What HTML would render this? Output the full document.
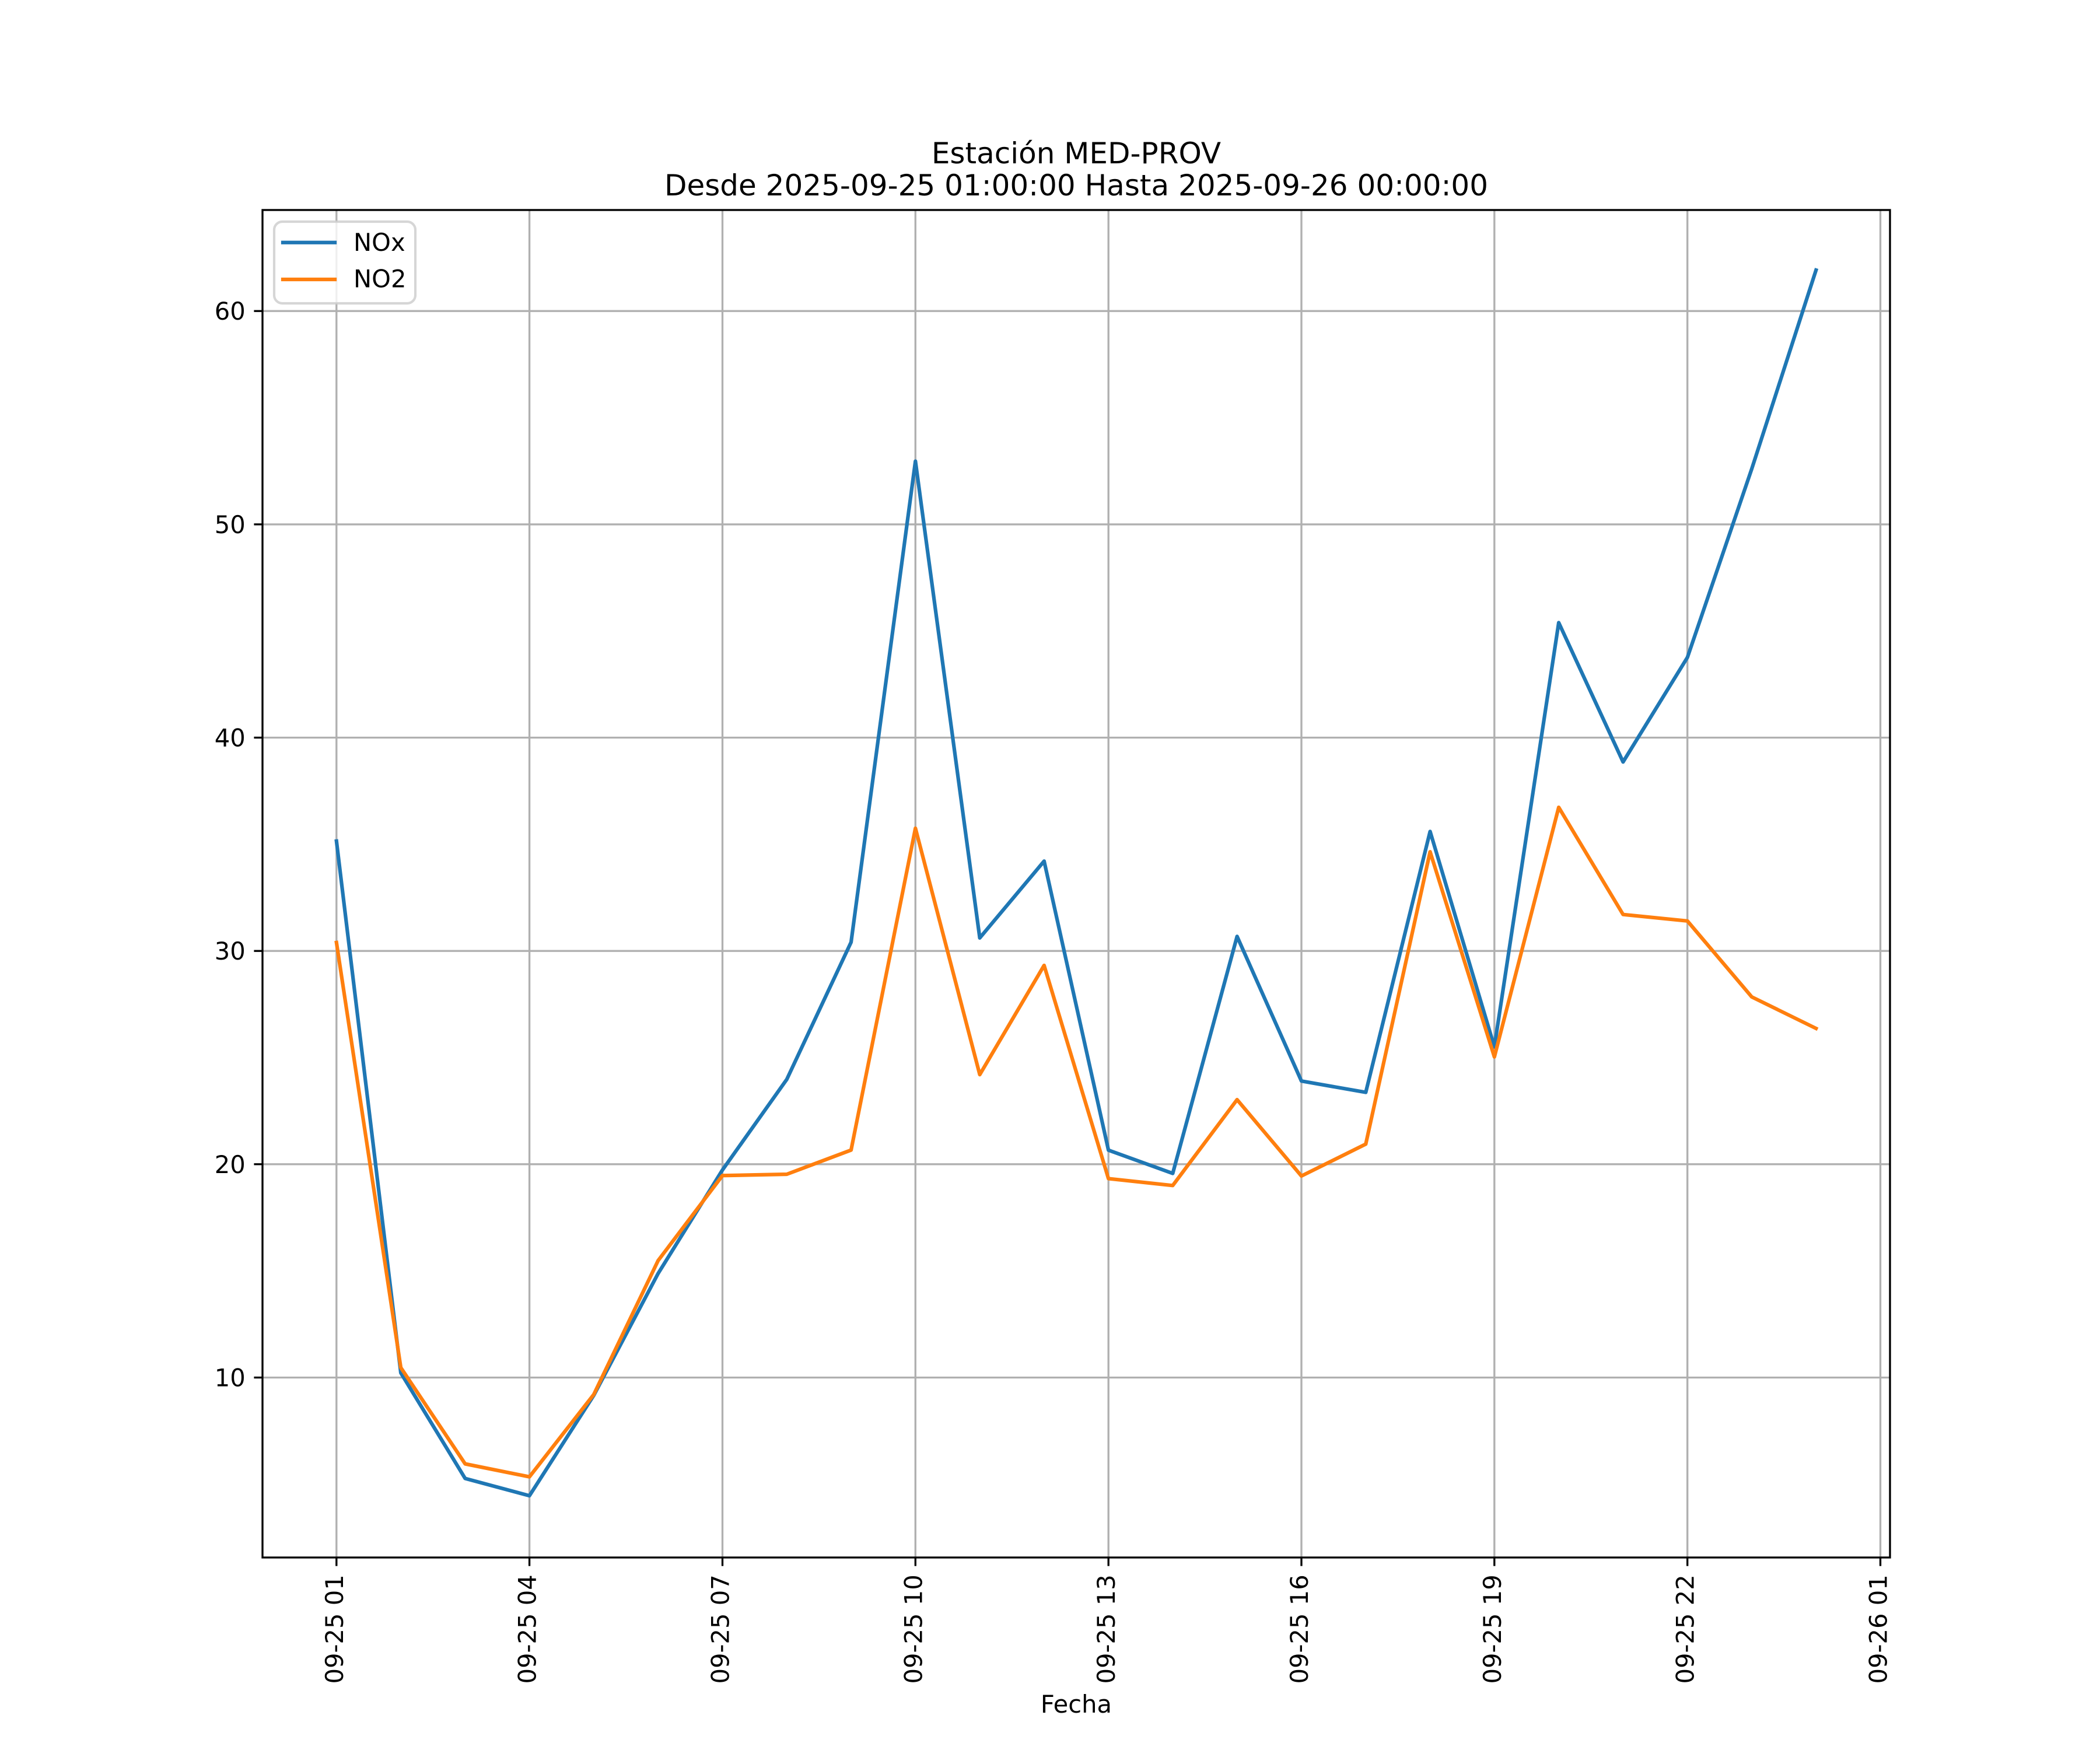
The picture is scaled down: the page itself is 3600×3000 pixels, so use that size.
<!DOCTYPE html>
<html>
<head>
<meta charset="utf-8">
<style>
  html, body { margin: 0; padding: 0; background: #ffffff; }
  svg { display: block; }
  text { font-family: "DejaVu Sans", "Liberation Sans", sans-serif; fill: #000; }
</style>
</head>
<body>
<svg width="3600" height="3000" viewBox="0 0 3600 3000" xmlns="http://www.w3.org/2000/svg">
  <rect x="0" y="0" width="3600" height="3000" fill="#ffffff"/>

  <!-- Title -->
  <text x="1845" y="280" font-size="50" text-anchor="middle">Estación MED-PROV</text>
  <text x="1845" y="335" font-size="50" text-anchor="middle">Desde 2025-09-25 01:00:00 Hasta 2025-09-26 00:00:00</text>

  <!-- Grid -->
  <g stroke="#b0b0b0" stroke-width="3.33" fill="none">
    <line x1="576.8" y1="360" x2="576.8" y2="2670"/>
    <line x1="907.6" y1="360" x2="907.6" y2="2670"/>
    <line x1="1238.5" y1="360" x2="1238.5" y2="2670"/>
    <line x1="1569.3" y1="360" x2="1569.3" y2="2670"/>
    <line x1="1900.2" y1="360" x2="1900.2" y2="2670"/>
    <line x1="2231.0" y1="360" x2="2231.0" y2="2670"/>
    <line x1="2561.8" y1="360" x2="2561.8" y2="2670"/>
    <line x1="2892.7" y1="360" x2="2892.7" y2="2670"/>
    <line x1="3223.5" y1="360" x2="3223.5" y2="2670"/>

    <line x1="450" y1="2361.5" x2="3240" y2="2361.5"/>
    <line x1="450" y1="1995.8" x2="3240" y2="1995.8"/>
    <line x1="450" y1="1630.2" x2="3240" y2="1630.2"/>
    <line x1="450" y1="1264.5" x2="3240" y2="1264.5"/>
    <line x1="450" y1="898.9" x2="3240" y2="898.9"/>
    <line x1="450" y1="533.2" x2="3240" y2="533.2"/>
  </g>

  <!-- Series -->
  <polyline fill="none" stroke="#1f77b4" stroke-width="6.25" stroke-linejoin="round" stroke-linecap="square"
    points="576.8,1441.9 687.1,2353.5 797.4,2534.5 907.6,2564.1 1017.9,2392 1128.2,2183.1 1238.5,2005.7 1348.8,1850.3 1459.0,1615.2 1569.3,790.6 1679.6,1607.9 1789.9,1476.2 1900.2,1971.7 2010.4,2011.6 2120.7,1605.3 2231.0,1853.2 2341.3,1872.6 2451.6,1425.4 2561.8,1794.7 2672.1,1067.4 2782.4,1306.2 2892.7,1127.0 3003.0,803.8 3113.2,463.0"/>
  <polyline fill="none" stroke="#ff7f0e" stroke-width="6.25" stroke-linejoin="round" stroke-linecap="square"
    points="576.8,1615.8 687.1,2344.5 797.4,2509.5 907.6,2531.7 1017.9,2390.5 1128.2,2161.0 1238.5,2015.3 1348.8,2013.0 1459.0,1971.6 1569.3,1419.9 1679.6,1842.2 1789.9,1655.0 1900.2,2020.5 2010.4,2032.3 2120.7,1885.1 2231.0,2016.0 2341.3,1961.3 2451.6,1460.2 2561.8,1811.8 2672.1,1384.0 2782.4,1567.7 2892.7,1578.8 3003.0,1709.0 3113.2,1763.0"/>

  <!-- Spines -->
  <rect x="450" y="360" width="2790" height="2310" fill="none" stroke="#000" stroke-width="3.33" stroke-linejoin="miter"/>

  <!-- Y ticks -->
  <g stroke="#000" stroke-width="3.33">
    <line x1="435.4" y1="2361.5" x2="450" y2="2361.5"/>
    <line x1="435.4" y1="1995.8" x2="450" y2="1995.8"/>
    <line x1="435.4" y1="1630.2" x2="450" y2="1630.2"/>
    <line x1="435.4" y1="1264.5" x2="450" y2="1264.5"/>
    <line x1="435.4" y1="898.9" x2="450" y2="898.9"/>
    <line x1="435.4" y1="533.2" x2="450" y2="533.2"/>
  </g>
  <g font-size="41.67" text-anchor="end">
    <text x="420.8" y="2376.5">10</text>
    <text x="420.8" y="2010.8">20</text>
    <text x="420.8" y="1645.2">30</text>
    <text x="420.8" y="1279.5">40</text>
    <text x="420.8" y="913.9">50</text>
    <text x="420.8" y="548.2">60</text>
  </g>

  <!-- X ticks -->
  <g stroke="#000" stroke-width="3.33">
    <line x1="576.8" y1="2670" x2="576.8" y2="2684.6"/>
    <line x1="907.6" y1="2670" x2="907.6" y2="2684.6"/>
    <line x1="1238.5" y1="2670" x2="1238.5" y2="2684.6"/>
    <line x1="1569.3" y1="2670" x2="1569.3" y2="2684.6"/>
    <line x1="1900.2" y1="2670" x2="1900.2" y2="2684.6"/>
    <line x1="2231.0" y1="2670" x2="2231.0" y2="2684.6"/>
    <line x1="2561.8" y1="2670" x2="2561.8" y2="2684.6"/>
    <line x1="2892.7" y1="2670" x2="2892.7" y2="2684.6"/>
    <line x1="3223.5" y1="2670" x2="3223.5" y2="2684.6"/>
  </g>
  <g font-size="41.67" text-anchor="end">
    <text transform="translate(587.8,2699.2) rotate(-90)">09-25 01</text>
    <text transform="translate(918.6,2699.2) rotate(-90)">09-25 04</text>
    <text transform="translate(1249.5,2699.2) rotate(-90)">09-25 07</text>
    <text transform="translate(1580.3,2699.2) rotate(-90)">09-25 10</text>
    <text transform="translate(1911.2,2699.2) rotate(-90)">09-25 13</text>
    <text transform="translate(2242.0,2699.2) rotate(-90)">09-25 16</text>
    <text transform="translate(2572.8,2699.2) rotate(-90)">09-25 19</text>
    <text transform="translate(2903.7,2699.2) rotate(-90)">09-25 22</text>
    <text transform="translate(3234.5,2699.2) rotate(-90)">09-26 01</text>
  </g>

  <!-- X label -->
  <text x="1845" y="2936" font-size="41.67" text-anchor="middle">Fecha</text>

  <!-- Legend -->
  <rect x="470" y="380" width="242" height="140" rx="14" ry="14" fill="#ffffff" fill-opacity="0.8" stroke="#cccccc" stroke-opacity="0.8" stroke-width="4.17"/>
  <line x1="485" y1="415.7" x2="574" y2="415.7" stroke="#1f77b4" stroke-width="6.25" stroke-linecap="square"/>
  <line x1="485" y1="479" x2="574" y2="479" stroke="#ff7f0e" stroke-width="6.25" stroke-linecap="square"/>
  <text x="606" y="430" font-size="41.67">NOx</text>
  <text x="606" y="492.7" font-size="41.67">NO2</text>
</svg>
</body>
</html>
